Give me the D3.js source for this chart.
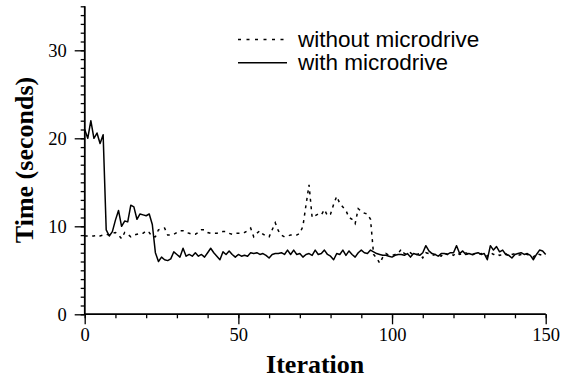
<!DOCTYPE html>
<html>
<head>
<meta charset="utf-8">
<script src="https://cdn.jsdelivr.net/npm/d3@7"></script>
<style>
  html, body { margin: 0; padding: 0; background: #fff; }
  svg { display: block; }
</style>
</head>
<body>
<svg id="chart" width="567" height="381"></svg>
<script>
// ---- data ----
const seriesNames = ["without microdrive", "with microdrive"];
const xTickValues = [0, 50, 100, 150];
const yTickValues = [0, 10, 20, 30];

const withoutMicrodrive = [
  8.9, 8.9, 8.9, 8.9, 9.0, 8.9, 9.0, 9.1, 9.0, 9.2,
  9.3, 9.0, 8.6, 9.3, 9.1, 8.8, 9.0, 9.1, 9.2, 9.2,
  9.5, 9.3, 8.8, 8.8, 9.6, 9.7, 9.8, 9.0, 9.0, 9.1,
  9.3, 9.5, 9.5, 9.3, 9.2, 9.1, 9.1, 9.3, 9.6, 9.6,
  9.3, 9.2, 9.2, 9.2, 9.3, 9.4, 9.4, 9.2, 9.1, 9.2,
  9.2, 9.2, 9.3, 9.5, 9.8, 8.8, 9.2, 9.5, 9.1, 8.9,
  8.8, 9.6, 10.4, 9.5, 9.0, 8.8, 8.9, 9.0, 9.0, 9.0,
  9.2, 10.0, 12.4, 14.7, 11.0, 11.2, 11.4, 11.3, 11.9, 11.2,
  11.4, 12.5, 13.4, 12.6, 12.2, 11.8, 11.0, 10.8, 10.3, 12.0,
  11.7, 11.5, 11.4, 10.8, 6.8, 6.4, 5.8, 6.5, 6.9, 6.7,
  6.7, 6.8, 6.9, 7.4, 6.9, 6.8, 7.0, 6.7, 6.8, 6.9,
  6.4, 7.0, 6.9, 6.7, 6.8, 6.7, 6.6, 7.0, 6.8, 6.9,
  6.7, 7.0, 6.8, 6.9, 7.0, 6.8, 6.7, 6.9, 6.8, 6.9,
  6.8, 6.6, 7.0, 6.8, 6.9, 6.7, 6.8, 6.9, 6.6, 6.8,
  6.9, 6.7, 6.8, 6.9, 6.8, 6.6, 6.5, 6.9, 6.8, 6.7,
  6.6
];

const withMicrodrive = [
  21.0, 20.0, 22.0, 20.0, 20.6, 19.4, 20.4, 9.6, 8.9, 9.4,
  10.7, 11.8, 10.0, 10.6, 10.5, 12.4, 12.2, 10.8, 11.4, 11.3,
  11.2, 11.4, 10.2, 7.0, 6.0, 6.5, 6.2, 6.1, 6.3, 7.1,
  6.8, 6.5, 7.5, 6.6, 6.8, 6.6, 7.0, 6.6, 6.8, 6.5,
  7.0, 7.5, 7.0, 6.6, 6.2, 7.1, 6.8, 7.2, 6.8, 6.5,
  6.8, 6.6, 6.7, 6.6, 7.0, 6.9, 7.0, 6.8, 6.9, 6.7,
  6.4, 6.8, 6.9, 6.9, 7.0, 6.8, 7.3, 6.8, 7.3, 6.8,
  6.9, 6.5, 6.8, 6.9, 6.7, 7.3, 6.8, 6.9, 7.3, 6.8,
  6.6, 6.2, 6.9, 6.8, 7.3, 6.7, 7.2, 6.8, 6.5, 7.0,
  7.3, 7.0, 6.9, 7.3, 7.1, 6.9, 6.8, 6.7, 6.7, 6.6,
  6.5, 6.7, 6.8, 6.8, 6.7, 6.9, 6.5, 6.9, 6.8, 6.7,
  7.0, 7.8, 7.2, 6.9, 6.8, 6.6, 6.9, 6.9, 6.8, 7.0,
  7.0, 7.8, 6.9, 7.2, 6.8, 6.9, 6.8, 6.9, 7.0, 6.8,
  6.9, 6.2, 7.8, 7.3, 7.7, 7.1, 7.3, 6.8, 6.7, 6.4,
  6.8, 6.9, 7.0, 6.8, 6.9, 6.7, 6.2, 6.8, 7.3, 7.2,
  6.8
];

// ---- layout ----
const svg = d3.select("#chart");
const mLeft = 84.7, mRight = 545.7, mTop = 6.3, mBottom = 314.3;

const x = d3.scaleLinear().domain([0, 150]).range([mLeft, mRight]);
const y = d3.scaleLinear().domain([0, 35]).range([mBottom, mTop]);

const serif = "'Liberation Serif', 'Times New Roman', serif";
const sans = "'Liberation Sans', Arial, Helvetica, sans-serif";

// minor y ticks
const yMinor = svg.append("g").attr("transform", `translate(${mLeft},0)`)
  .call(d3.axisLeft(y).tickValues(d3.range(0, 36, 1)).tickSize(4).tickFormat(""));
// major y ticks
const yMajor = svg.append("g").attr("transform", `translate(${mLeft},0)`)
  .call(d3.axisLeft(y).tickValues(yTickValues).tickSize(10).tickPadding(8).tickFormat(d3.format("d")));

// minor x ticks
const xMinor = svg.append("g").attr("transform", `translate(0,${mBottom})`)
  .call(d3.axisBottom(x).tickValues(d3.range(0, 151, 10)).tickSize(4).tickFormat(""));
const xMajor = svg.append("g").attr("transform", `translate(0,${mBottom})`)
  .call(d3.axisBottom(x).tickValues(xTickValues).tickSize(10).tickPadding(8).tickFormat(d3.format("d")));

[yMinor, yMajor, xMinor, xMajor].forEach(g => {
  g.select(".domain").attr("stroke", "#000").attr("stroke-width", 1.5);
  g.selectAll(".tick line").attr("stroke", "#000").attr("stroke-width", 1.3);
  g.selectAll("text").attr("font-family", serif).attr("font-size", 18.5).attr("fill", "#000");
});
yMinor.select(".domain").attr("d", `M0,${mTop}V${mBottom}`);
yMajor.select(".domain").attr("d", `M0,${mTop}V${mBottom}`);
xMinor.select(".domain").attr("d", `M${mLeft},0H${mRight}`);
xMajor.select(".domain").attr("d", `M${mLeft},0H${mRight}`);
xMajor.selectAll(".tick text").attr("y", 14).attr("dy", "0.71em");

// axis titles
svg.append("text")
  .attr("x", (mLeft + mRight) / 2).attr("y", 373)
  .attr("text-anchor", "middle")
  .attr("font-family", serif).attr("font-weight", "bold").attr("font-size", 26)
  .text("Iteration");

svg.append("text")
  .attr("transform", `translate(33,160) rotate(-90)`)
  .attr("text-anchor", "middle")
  .attr("font-family", serif).attr("font-weight", "bold").attr("font-size", 26)
  .text("Time (seconds)");

// lines
const line = d3.line().x((d, i) => x(i)).y(d => y(d));

svg.append("path").datum(withoutMicrodrive)
  .attr("d", line).attr("fill", "none")
  .attr("stroke", "#000").attr("stroke-width", 1.5)
  .attr("stroke-dasharray", "3,4.5");

svg.append("path").datum(withMicrodrive)
  .attr("d", line).attr("fill", "none")
  .attr("stroke", "#000").attr("stroke-width", 1.5)
  .attr("stroke-linejoin", "round");

// legend
const legend = svg.append("g");
const legendRows = [
  { name: seriesNames[0], dash: "3,5.5", ly: 39.5 },
  { name: seriesNames[1], dash: null, ly: 62.7 }
];
legendRows.forEach(r => {
  legend.append("line")
    .attr("x1", 238).attr("x2", 287).attr("y1", r.ly).attr("y2", r.ly)
    .attr("stroke", "#000").attr("stroke-width", 1.5)
    .attr("stroke-dasharray", r.dash);
  legend.append("text")
    .attr("x", 298).attr("y", r.ly + 7)
    .attr("font-family", sans).attr("font-size", 22.5).attr("fill", "#000")
    .text(r.name);
});
</script>
</body>
</html>
